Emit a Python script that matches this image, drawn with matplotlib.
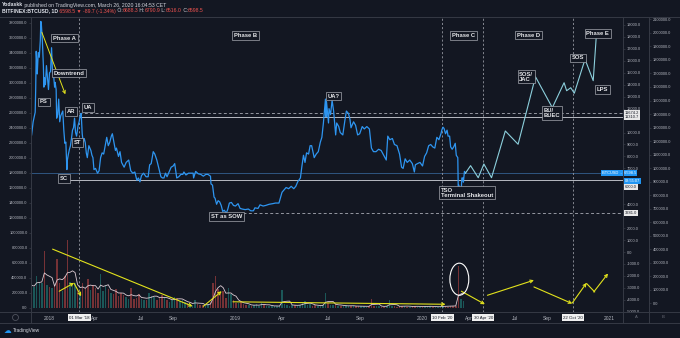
import numpy as np
import pandas as pd
import matplotlib.pyplot as plt
import matplotlib.dates as mdates
import matplotlib.transforms as mtransforms
from matplotlib.lines import Line2D
from matplotlib.patches import Ellipse

plt.rcParams['font.family'] = ['Liberation Sans', 'DejaVu Sans']

BG = '#131722'
TXT = '#b2b5be'
SEP = '#363a45'
BLUE = '#2e95f0'
PROJ = '#8ccfdc'
YELLOW = '#e2e21c'
RED = '#ef5350'
GREEN = '#26a69a'

# BITFINEX:BTCUSD daily closes (sampled)
price_2017 = [('2017-11-28', 9800), ('2017-12-01', 10900), ('2017-12-03', 11300),
              ('2017-12-05', 11700), ('2017-12-06', 13700), ('2017-12-07', 16800),
              ('2017-12-08', 16000), ('2017-12-09', 14900), ('2017-12-11', 16700),
              ('2017-12-13', 16300), ('2017-12-15', 17700), ('2017-12-16', 19300),
              ('2017-12-17', 19100), ('2017-12-19', 17700), ('2017-12-21', 15600),
              ('2017-12-22', 13800), ('2017-12-23', 14600), ('2017-12-25', 14000),
              ('2017-12-27', 15600), ('2017-12-29', 14600), ('2017-12-31', 13600)]
price_2018 = [('2018-01-02', 15000), ('2018-01-04', 15100), ('2018-01-06', 17100),
              ('2018-01-08', 15000), ('2018-01-10', 14800), ('2018-01-12', 13800),
              ('2018-01-13', 14200), ('2018-01-15', 13600), ('2018-01-16', 11200),
              ('2018-01-18', 11500), ('2018-01-20', 12800), ('2018-01-22', 10900),
              ('2018-01-24', 11400), ('2018-01-28', 11800), ('2018-01-30', 10200),
              ('2018-02-01', 9100), ('2018-02-03', 9200), ('2018-02-05', 6900),
              ('2018-02-06', 7700), ('2018-02-08', 8200), ('2018-02-10', 8600),
              ('2018-02-12', 8900), ('2018-02-14', 9500), ('2018-02-16', 10200),
              ('2018-02-18', 10400), ('2018-02-20', 11200), ('2018-02-22', 10000),
              ('2018-02-24', 9700), ('2018-02-27', 10600), ('2018-03-01', 10900),
              ('2018-03-03', 11400), ('2018-03-05', 11600), ('2018-03-07', 9900),
              ('2018-03-09', 9200), ('2018-03-11', 9500), ('2018-03-13', 9150),
              ('2018-03-15', 8300), ('2018-03-17', 7900), ('2018-03-20', 8900),
              ('2018-03-22', 8700), ('2018-03-24', 8500), ('2018-03-26', 8100),
              ('2018-03-28', 7900), ('2018-03-30', 6900), ('2018-04-02', 7000),
              ('2018-04-06', 6600), ('2018-04-09', 6800), ('2018-04-12', 7900),
              ('2018-04-15', 8300), ('2018-04-18', 8200), ('2018-04-21', 8900),
              ('2018-04-24', 9600), ('2018-04-27', 8900), ('2018-04-30', 9200),
              ('2018-05-03', 9700), ('2018-05-05', 9900), ('2018-05-08', 9200),
              ('2018-05-11', 8500), ('2018-05-13', 8700), ('2018-05-17', 8000),
              ('2018-05-20', 8400), ('2018-05-23', 7500), ('2018-05-28', 7100),
              ('2018-06-01', 7500), ('2018-06-06', 7700), ('2018-06-10', 6800),
              ('2018-06-14', 6600), ('2018-06-18', 6700), ('2018-06-22', 6000),
              ('2018-06-25', 6200), ('2018-06-28', 5880), ('2018-07-01', 6400),
              ('2018-07-05', 6600), ('2018-07-10', 6300), ('2018-07-14', 6300),
              ('2018-07-17', 7300), ('2018-07-20', 7400), ('2018-07-24', 8400),
              ('2018-07-27', 8200), ('2018-07-31', 7700), ('2018-08-04', 7000),
              ('2018-08-08', 6300), ('2018-08-11', 6200), ('2018-08-14', 6200),
              ('2018-08-17', 6600), ('2018-08-20', 6300), ('2018-08-24', 6700),
              ('2018-08-28', 7100), ('2018-09-01', 7200), ('2018-09-04', 7400),
              ('2018-09-08', 6200), ('2018-09-12', 6300), ('2018-09-16', 6500),
              ('2018-09-20', 6500), ('2018-09-22', 6700), ('2018-09-26', 6450),
              ('2018-10-01', 6600), ('2018-10-05', 6600), ('2018-10-10', 6600),
              ('2018-10-11', 6200), ('2018-10-15', 6750), ('2018-10-20', 6550),
              ('2018-10-25', 6500), ('2018-10-30', 6350), ('2018-11-04', 6500),
              ('2018-11-08', 6500), ('2018-11-13', 6350), ('2018-11-14', 5700),
              ('2018-11-17', 5600), ('2018-11-20', 4600), ('2018-11-22', 4500),
              ('2018-11-25', 4000), ('2018-11-28', 4300), ('2018-12-01', 4200),
              ('2018-12-04', 3900), ('2018-12-07', 3400), ('2018-12-10', 3500),
              ('2018-12-14', 3250), ('2018-12-17', 3600), ('2018-12-20', 4100),
              ('2018-12-24', 4150), ('2018-12-28', 3900)]
price_2019 = [('2019-01-01', 3850), ('2019-01-06', 4050), ('2019-01-10', 3650),
              ('2019-01-14', 3600), ('2019-01-20', 3550), ('2019-01-26', 3600),
              ('2019-01-31', 3450), ('2019-02-05', 3450), ('2019-02-08', 3700),
              ('2019-02-14', 3650), ('2019-02-18', 3950), ('2019-02-24', 3850),
              ('2019-03-01', 3900), ('2019-03-08', 4000), ('2019-03-15', 4050),
              ('2019-03-20', 4100), ('2019-03-27', 4100), ('2019-04-02', 5000),
              ('2019-04-06', 5200), ('2019-04-10', 5400), ('2019-04-15', 5300),
              ('2019-04-20', 5500), ('2019-04-25', 5300), ('2019-04-29', 5500),
              ('2019-05-03', 5900), ('2019-05-08', 6200), ('2019-05-11', 7200),
              ('2019-05-14', 8100), ('2019-05-17', 7500), ('2019-05-20', 8300),
              ('2019-05-24', 8200), ('2019-05-27', 8900), ('2019-05-30', 8900),
              ('2019-06-04', 7900), ('2019-06-08', 8200), ('2019-06-12', 8400),
              ('2019-06-16', 9200), ('2019-06-19', 9600), ('2019-06-22', 10800),
              ('2019-06-26', 12800), ('2019-06-27', 11300), ('2019-06-28', 12600),
              ('2019-07-02', 10800), ('2019-07-03', 12000), ('2019-07-06', 11500),
              ('2019-07-09', 12700), ('2019-07-12', 11800), ('2019-07-16', 9800),
              ('2019-07-18', 10800), ('2019-07-22', 10500), ('2019-07-25', 10000),
              ('2019-07-30', 9800), ('2019-08-03', 11000), ('2019-08-06', 11800),
              ('2019-08-10', 11600), ('2019-08-13', 11100), ('2019-08-15', 10400),
              ('2019-08-20', 10900), ('2019-08-24', 10600), ('2019-08-28', 9800),
              ('2019-09-01', 9900), ('2019-09-06', 10500), ('2019-09-10', 10300),
              ('2019-09-15', 10500), ('2019-09-20', 10300), ('2019-09-24', 8700),
              ('2019-09-28', 8400), ('2019-10-03', 8400), ('2019-10-08', 8600),
              ('2019-10-13', 8500), ('2019-10-18', 8100), ('2019-10-23', 7700),
              ('2019-10-26', 9700), ('2019-10-30', 9400), ('2019-11-04', 9500),
              ('2019-11-08', 9000), ('2019-11-13', 8900), ('2019-11-18', 8200),
              ('2019-11-22', 7100), ('2019-11-25', 7000), ('2019-11-29', 7800),
              ('2019-12-03', 7500), ('2019-12-08', 7700), ('2019-12-13', 7400),
              ('2019-12-17', 6700), ('2019-12-19', 7300), ('2019-12-23', 7400),
              ('2019-12-28', 7500)]
price_2020 = [('2020-01-02', 7200), ('2020-01-06', 8000), ('2020-01-10', 8300),
              ('2020-01-14', 8900), ('2020-01-18', 9000), ('2020-01-22', 8800),
              ('2020-01-26', 8700), ('2020-01-30', 9600), ('2020-02-03', 9400),
              ('2020-02-07', 9900), ('2020-02-09', 10250), ('2020-02-11', 10450),
              ('2020-02-13', 10350), ('2020-02-16', 9900), ('2020-02-19', 10200),
              ('2020-02-21', 9700), ('2020-02-24', 9700), ('2020-02-26', 8800),
              ('2020-02-29', 8600), ('2020-03-03', 8800), ('2020-03-06', 9100),
              ('2020-03-08', 8100), ('2020-03-11', 7900), ('2020-03-12', 4950),
              ('2020-03-13', 5600), ('2020-03-16', 5050), ('2020-03-18', 5400),
              ('2020-03-19', 6200), ('2020-03-21', 6200), ('2020-03-22', 5850),
              ('2020-03-24', 6750), ('2020-03-25', 6700), ('2020-03-26', 6598.5)]

# projected path
proj_dates = ['2020-03-26', '2020-04-05', '2020-04-20', '2020-05-01', '2020-05-16',
              '2020-06-12', '2020-07-07', '2020-08-10', '2020-09-12', '2020-10-05',
              '2020-10-10', '2020-10-18', '2020-10-25', '2020-11-15', '2020-12-01',
              '2020-12-07']
proj_price = [6598.5, 7230, 6220, 7370, 6220, 10130, 9020, 14670, 12080, 14170,
              13500, 13750, 13290, 16130, 14340, 18050]

# volume, one value every 5 days from 2017-11-28, in thousands
vol_start = '2017-11-28'
vol_k = [300, 280, 420, 350, 330, 760, 310, 280, 260, 300,
         650, 330, 220, 420, 900, 350, 300, 330, 250, 200,
         330, 260, 380, 240, 300, 260, 200, 450, 230, 300,
         250, 200, 180, 250, 160, 200, 170, 150, 120, 260,
         120, 130, 180, 120, 100, 110, 200, 160, 150, 110,
         130, 170, 140, 100, 80, 110, 150, 130, 90, 100,
         80, 60, 50, 40, 110, 50, 40, 35, 40, 45,
         80, 330, 420, 250, 180, 220, 130, 260, 180, 110,
         70, 60, 90, 50, 40, 35, 30, 35, 45, 30,
         60, 45, 25, 30, 25, 20, 25, 20, 240, 50,
         40, 25, 35, 40, 30, 35, 70, 90, 40, 50,
         30, 35, 25, 30, 40, 200, 60, 35, 40, 55,
         30, 25, 20, 35, 25, 30, 20, 18, 20, 25,
         20, 15, 18, 120, 30, 20, 25, 15, 15, 30,
         100, 25, 20, 15, 20, 30, 25, 15, 15, 18,
         30, 15, 12, 15, 25, 20, 18, 12, 15, 15,
         18, 25, 20, 15, 30, 25, 30, 560, 120, 90]

# horizontal levels: (value, start date, style)
levels = [(11674.2, '2018-03-01', 'dashed'), (11310.7, '2018-03-01', 'solid'),
          (6000.0, '2018-02-06', 'solid'), (3281.0, '2018-12-15', 'dashed')]
marked_days = ['2018-03-01', '2020-02-10', '2020-04-30', '2020-10-22']
marked_labels = ["01 Mar '18", "10 Feb '20", "30 Apr '20", "22 Oct '20"]

# wyckoff labels: (text, date, price)
wyckoff = [('Phase A', '2018-01-31', 17900), ('Downtrend', '2018-02-09', 14980),
           ('PS', '2017-12-22', 12560), ('AR', '2018-02-13', 11780),
           ('UA', '2018-03-19', 12100), ('ST', '2018-02-25', 9180),
           ('SC', '2018-01-30', 6140), ('ST as SOW', '2018-12-14', 2990),
           ('Phase B', '2019-01-21', 18120), ('UA?', '2019-07-12', 13040),
           ('Phase C', '2020-03-22', 18120), ('Phase D', '2020-07-27', 18160),
           ('Phase E', '2020-12-10', 18300), ('SOS/\nJAC', '2020-07-23', 14670),
           ('SOS', '2020-11-02', 16240), ('LPS', '2020-12-19', 13600),
           ('BU/\nBUEC', '2020-09-11', 11640),
           ('TSO\nTerminal Shakeout', '2020-03-29', 4970)]

# yellow arrows on the volume pane: (start, vol, end, vol, style)
vol_arrows = [('2018-01-08', 782e3, '2018-10-09', 20e3, '->'),
              ('2018-01-21', 221e3, '2018-02-19', 332e3, '->'),
              ('2018-02-19', 328e3, '2018-03-05', 154e3, '->'),
              ('2018-10-30', 20e3, '2018-12-05', 221e3, '->'),
              ('2018-12-27', 80e3, '2020-02-16', 47e3, '->'),
              ('2020-03-18', 221e3, '2020-05-03', 47e3, '->'),
              ('2020-05-08', 167e3, '2020-08-07', 368e3, '->'),
              ('2020-08-07', 278e3, '2020-10-21', 56e3, '->'),
              ('2020-10-21', 64e3, '2020-11-18', 332e3, '->'),
              ('2020-11-18', 324e3, '2020-12-04', 211e3, '-'),
              ('2020-12-02', 211e3, '2020-12-30', 457e3, '->')]

xtick_dates = ['2018-01-01', '2018-04-01', '2018-07-01', '2018-09-01',
               '2019-01-01', '2019-04-01', '2019-07-01', '2019-09-01',
               '2020-01-01', '2020-04-01', '2020-07-01', '2020-09-01', '2021-01-01']
xtick_labels = ['2018', 'Apr', 'Jul', 'Sep', '2019', 'Apr', 'Jul', 'Sep',
                '2020', 'Apr', 'Jul', 'Sep', '2021']

W, H = 680, 338


def fx(px):
    return px / W


def fy(py):
    return 1 - py / H


fig = plt.figure(figsize=(6.8, 3.38), dpi=100)
fig.patch.set_facecolor(BG)
L, R, T, B = 31, 623, 17, 312
ax = fig.add_axes([fx(L), fy(B), (R - L) / W, (B - T) / H])
ax.set_facecolor(BG)
axv = ax.twinx()
axb = ax.twinx()

# ---- price pane
pts = price_2017 + price_2018 + price_2019 + price_2020
p_dates = pd.to_datetime([d for d, _ in pts])
p_close = np.array([c for _, c in pts], dtype=float)
ax.plot(p_dates, p_close, color=BLUE, lw=0.9, zorder=3)
ax.plot(pd.to_datetime(proj_dates), proj_price, color=PROJ, lw=0.8, zorder=3)

x_left = pd.Timestamp('2017-11-26 19:00')
x_right = pd.Timestamp('2021-01-28 07:00')
ax.set_xlim(x_left, x_right)
ax.set_ylim(-5017, 19669)

ax.axhline(p_close[-1], color='#3a6ea5', lw=0.5, zorder=2)
for val, start, style in levels:
    ls = (0, (3, 2.5)) if style == 'dashed' else '-'
    col = '#9598a1' if style == 'dashed' else '#b8bbc3'
    ax.hlines(val, pd.Timestamp(start), x_right, colors=col, lw=0.7,
              linestyles=[ls], zorder=2)
for d in marked_days:
    ax.axvline(pd.Timestamp(d), color='#9598a1', lw=0.6, ls=(0, (2.5, 2.5)), zorder=2)

ax.annotate('', xy=(pd.Timestamp('2018-02-02'), 13200),
            xytext=(pd.Timestamp('2017-12-18'), 18390),
            arrowprops=dict(arrowstyle='->', color=YELLOW, lw=0.7,
                            shrinkA=0, shrinkB=0, mutation_scale=5), zorder=5)

for text, d, p in wyckoff:
    ax.text(pd.Timestamp(d), p, text, ha='center', va='center', fontsize=4.2,
            fontweight='bold', color='#e6e7ea', linespacing=1.0,
            multialignment='left', zorder=6,
            bbox=dict(boxstyle='square,pad=0.3', fc=BG, ec='#a3a6ae', lw=0.5))

# ---- volume pane (left scale)
vol = np.array(vol_k, dtype=float) * 1000
v_dates = pd.date_range(vol_start, periods=len(vol), freq='5D')
pn = mdates.date2num(p_dates)
vn = mdates.date2num(v_dates)
p_now = np.interp(vn, pn, p_close)
p_before = np.interp(vn - 5, pn, p_close)
bar_cols = np.where(p_now >= p_before, GREEN, RED)
axv.bar(v_dates, vol, width=3.0, color=bar_cols, alpha=0.45, lw=0, zorder=2)
ma = pd.Series(vol).rolling(4, min_periods=1).mean()
axv.plot(v_dates, ma, color='#dccbd3', lw=0.6, zorder=3)
axv.set_ylim(-56000, 3876000)

for s0, v0, s1, v1, style in vol_arrows:
    axv.annotate('', xy=(pd.Timestamp(s1), v1), xytext=(pd.Timestamp(s0), v0),
                 arrowprops=dict(arrowstyle=style, color=YELLOW, lw=0.8,
                                 shrinkA=0, shrinkB=0, mutation_scale=5), zorder=5)
axv.add_patch(Ellipse((mdates.date2num(pd.Timestamp('2020-03-14')), 381000),
                      width=37, height=428000, fill=False, ec='white', lw=0.8,
                      zorder=5))

# ---- axes and ticks
for a in (ax, axv, axb):
    for s in a.spines.values():
        s.set_visible(False)

price_ticks = [v for v in range(19000, -5001, -1000) if v not in (11000, 6000, 5000, 3000)]
ax.yaxis.tick_right()
ax.set_yticks(price_ticks)
ax.set_yticklabels([f'{v:.1f}' for v in price_ticks])
ax.tick_params(axis='y', colors=SEP, labelcolor=TXT, labelsize=2.9, length=1.5,
               width=0.5, pad=1.2)
ax.set_xticks(pd.to_datetime(xtick_dates))
ax.set_xticklabels(xtick_labels)
ax.tick_params(axis='x', length=0, pad=2.6, labelsize=3.5, labelcolor=TXT)

vol_ticks = np.arange(0, 3800001, 200000)
axv.yaxis.tick_left()
axv.set_yticks(vol_ticks)
axv.set_yticklabels([f'{v:.1f}' for v in vol_ticks])
axv.tick_params(axis='y', colors=SEP, labelcolor=TXT, labelsize=2.9, length=1.5,
                width=0.5, pad=1.0)

b_ticks = np.arange(0, 2100001, 100000)
axb.set_ylim(-64300, 2117600)
axb.yaxis.tick_right()
axb.spines['right'].set_position(('outward', 26 * 72 / 100))
axb.set_yticks(b_ticks)
axb.set_yticklabels([f'{v:.1f}' for v in b_ticks])
axb.tick_params(axis='y', colors=SEP, labelcolor=TXT, labelsize=2.9, length=1.5,
                width=0.5, pad=1.2)

# price scale labels
tr_y = mtransforms.blended_transform_factory(ax.transAxes, ax.transData)
white_box = dict(boxstyle='square,pad=0.25', fc='#e8e8e8', ec='none')
blue_box = dict(boxstyle='square,pad=0.25', fc='#2196f3', ec='none')
for val in (11674.2, 11310.7, 3281.0):
    ax.text(1.003, val, f'{val:.1f}', transform=tr_y, ha='left', va='center',
            fontsize=2.9, color=BG, bbox=white_box, clip_on=False, zorder=8)
ax.text((602 - L) / (R - L), p_close[-1], f'BTCUSD  -  {p_close[-1]:.1f}', transform=tr_y,
        ha='left', va='center', fontsize=2.9, color='white', bbox=blue_box,
        clip_on=False, zorder=8)
ax.annotate('08:55:07', xy=(1.003, p_close[-1]), xycoords=tr_y, xytext=(0, -5.5),
            textcoords='offset points', ha='left', va='center', fontsize=2.9,
            color='white', bbox=blue_box, annotation_clip=False, zorder=8)
ax.annotate('6000.0', xy=(1.003, 6000.0), xycoords=tr_y, xytext=(0, -4.8),
            textcoords='offset points', ha='left', va='center', fontsize=2.9,
            color=BG, bbox=white_box, annotation_clip=False, zorder=8)

# date labels on the time scale
tr_x = mtransforms.blended_transform_factory(ax.transData, ax.transAxes)
for d, lab in zip(marked_days, marked_labels):
    ax.text(pd.Timestamp(d), -0.019, lab, transform=tr_x, ha='center', va='center',
            fontsize=3.2, color=BG, clip_on=False, zorder=8,
            bbox=dict(boxstyle='square,pad=0.3', fc='#f0f0f0', ec='none'))

# ---- pane separators and chrome
seps = [((0, 17), (680, 17)), ((0, 312), (680, 312)), ((0, 323), (680, 323)),
        ((31, 17), (31, 323)), ((623, 17), (623, 323)), ((649, 17), (649, 323))]
for (x0, y0), (x1, y1) in seps:
    fig.add_artist(Line2D([fx(x0), fx(x1)], [fy(y0), fy(y1)], color=SEP, lw=0.7,
                          transform=fig.transFigure, zorder=1))

fig.add_artist(Ellipse((fx(15.5), fy(317.5)), 6 / W, 6 / H, fill=False, ec='#50535e',
                       lw=0.6, transform=fig.transFigure))
fig.text(fx(636), fy(317.5), 'A', fontsize=3, color='#6a6d78', ha='center', va='center')
fig.text(fx(663), fy(317.5), 'B', fontsize=3, color='#6a6d78', ha='center', va='center')
fig.text(fx(7), fy(330.5), '\u2601', fontsize=5.5, color='#2196f3', ha='center',
         va='center', family='DejaVu Sans')
fig.text(fx(13), fy(330.5), 'TradingView', fontsize=3.5, color='#d1d4dc', va='center')


def header(parts, x, y):
    s, c, w = parts[0]
    prev = fig.text(x, y, s, color=c, fontsize=3.7, fontweight=w, va='center')
    for s, c, w in parts[1:]:
        prev = ax.annotate(s, xy=(1, 0.5), xycoords=prev, va='center', ha='left',
                           color=c, fontsize=3.7, fontweight=w, annotation_clip=False)


header([('Yodaskk', '#e0e3eb', 'bold'),
        (' published on TradingView.com, March 26, 2020 16:04:53 CET', '#d1d4dc', 'normal')],
       fx(2), fy(5))
header([('BITFINEX:BTCUSD, 1D', '#e0e3eb', 'bold'),
        (' 6598.5 \u25bc -89.7 (-1.34%)', RED, 'normal'),
        (' O:', '#d1d4dc', 'normal'), ('6688.3', RED, 'normal'),
        (' H:', '#d1d4dc', 'normal'), ('6790.9', RED, 'normal'),
        (' L:', '#d1d4dc', 'normal'), ('6516.0', RED, 'normal'),
        (' C:', '#d1d4dc', 'normal'), ('6598.5', RED, 'normal')],
       fx(2), fy(11))

fig.savefig('out.png', dpi=100, facecolor=BG)
